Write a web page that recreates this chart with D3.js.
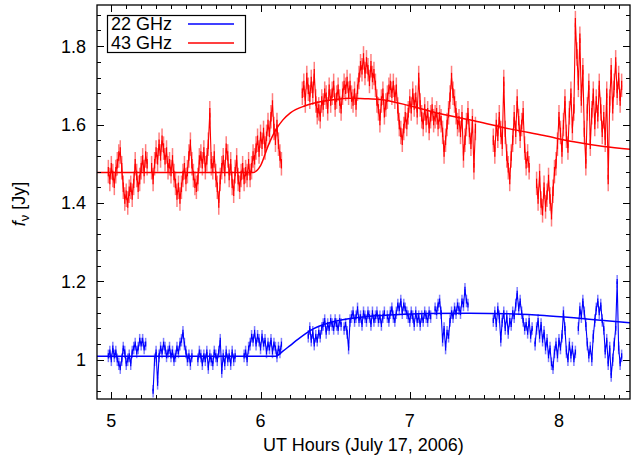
<!DOCTYPE html>
<html>
<head>
<meta charset="utf-8">
<script src="https://cdn.jsdelivr.net/npm/d3@7"></script>
<style>
  body { margin: 0; background: #fff; }
  svg { display: block; font-family: "Liberation Sans", Arial, sans-serif; }
</style>
</head>
<body>
<div id="chart"></div>
<script>
const W = 631, H = 458;
const M = { left: 97, right: 630, top: 5, bottom: 399 };

// samples every 0.01 h starting at 4.98 h; null = no data
const T_START = 4.98, T_STEP = 0.01;

const flux43 = [
  1.48,1.46,1.49,1.47,1.45,1.48,1.50,1.52,1.53,1.49,
  1.44,1.41,1.42,1.40,1.43,1.44,1.42,1.45,1.50,1.47,
  1.44,1.46,1.49,1.51,1.48,1.52,1.50,null,null,1.49,
  1.46,1.50,1.53,1.51,1.55,1.52,1.56,1.54,1.51,1.53,
  1.49,1.50,1.48,1.51,1.47,1.45,1.42,1.44,1.41,1.44,
  1.47,1.49,1.46,1.48,1.52,1.55,1.50,1.47,1.45,1.44,
  1.46,1.51,1.52,1.50,1.53,1.49,1.51,1.55,1.63,1.50,
  1.49,1.52,1.47,1.44,1.40,1.46,1.49,1.51,1.48,1.54,
  1.52,1.47,1.50,1.45,1.43,1.48,1.51,1.46,1.44,1.47,
  1.49,1.46,1.48,1.47,1.50,1.47,1.49,1.52,1.51,1.54,
  1.56,1.53,1.57,1.55,1.58,1.54,1.57,1.60,1.58,1.62,
  1.65,1.59,1.56,1.60,1.55,1.52,1.50,null,null,null,
  null,null,null,null,null,null,null,null,null,null,
  1.68,1.70,1.66,1.72,1.69,1.67,1.71,1.68,1.73,1.66,
  1.63,1.64,1.62,1.66,1.65,1.68,1.67,1.64,1.69,1.66,
  1.68,1.70,1.65,1.67,1.69,1.66,1.64,1.68,1.70,1.69,
  1.71,1.68,1.70,1.67,1.66,1.68,1.65,1.69,1.72,1.75,
  1.74,1.77,1.73,1.76,1.74,1.71,1.75,1.72,1.73,1.70,
  1.66,1.64,1.61,1.66,1.68,1.63,1.65,1.67,1.69,1.70,
  1.68,1.70,1.67,1.69,1.64,1.60,1.58,1.56,1.59,1.62,
  1.60,1.63,1.66,1.64,1.68,1.65,1.67,1.63,1.72,1.65,
  1.62,1.60,1.64,1.61,1.63,1.59,1.62,1.64,1.61,1.62,
  1.63,1.60,1.62,1.61,1.58,1.53,1.56,1.60,1.63,1.67,
  1.72,1.68,1.66,1.63,1.60,1.61,1.58,1.62,1.52,1.56,
  1.60,1.63,1.58,1.55,1.61,1.49,1.59,null,null,null,
  null,null,null,null,null,null,null,null,1.56,1.53,
  1.60,1.57,1.62,1.58,1.55,1.71,1.58,1.52,1.49,1.46,
  1.52,1.56,1.62,1.58,1.66,1.61,1.57,1.60,1.63,1.54,
  1.50,1.52,1.49,null,null,null,null,1.45,1.41,1.47,
  1.40,1.38,1.44,1.39,1.42,1.46,1.41,1.37,1.43,1.48,
  1.50,1.55,1.62,1.58,1.53,1.60,1.66,1.57,1.54,1.63,
  1.68,1.59,1.64,1.86,1.78,1.70,1.82,1.66,1.74,1.58,
  1.50,1.64,1.70,1.55,1.63,1.68,1.60,1.66,1.62,1.70,
  1.64,1.58,1.62,1.56,1.68,1.46,1.66,1.74,1.64,1.70,
  1.76,1.68,1.72,1.66,1.70
];

const flux22 = [
  1.01,1.02,1.00,1.03,1.01,1.02,1.00,0.99,0.98,1.00,
  1.03,1.02,0.99,1.00,1.01,0.99,1.02,1.03,1.04,1.02,
  1.03,1.05,1.04,1.05,1.03,1.04,null,null,null,null,
  0.92,1.00,1.02,0.94,1.01,1.03,1.02,1.04,1.03,1.01,
  1.02,1.03,1.01,1.02,1.00,1.01,1.03,1.02,1.04,1.05,
  1.07,1.04,1.02,1.00,1.01,0.99,1.01,null,null,null,
  1.00,1.02,1.01,0.99,1.01,1.00,1.02,0.98,1.01,1.00,
  0.99,1.02,1.01,1.00,1.02,1.05,0.97,1.01,0.99,1.02,
  1.00,1.01,0.99,1.02,1.00,1.01,null,null,null,null,
  null,1.01,1.02,1.00,1.03,1.04,1.06,1.05,1.07,1.04,
  1.06,1.05,1.03,1.06,1.04,1.05,1.02,1.04,1.03,1.05,
  1.02,1.04,1.03,1.01,1.03,1.02,1.04,null,null,null,
  null,null,null,null,null,null,null,null,null,null,
  null,null,null,null,1.06,1.08,1.05,1.07,1.04,1.06,
  1.05,1.07,1.06,1.08,1.09,1.10,1.07,1.09,1.08,1.10,
  1.09,1.08,1.10,1.09,1.08,1.10,1.09,null,1.08,1.09,
  1.07,1.03,1.10,1.11,1.12,1.10,1.11,1.13,1.10,1.11,
  1.09,1.12,1.11,1.10,1.12,1.11,1.09,1.12,1.10,1.11,
  1.12,1.10,1.11,1.09,1.11,1.12,null,1.11,1.10,1.12,
  1.13,1.11,1.10,1.12,1.14,1.13,1.15,1.12,1.14,1.13,
  1.12,1.11,1.10,1.12,1.11,1.09,1.12,1.10,1.11,1.09,
  1.11,1.10,1.12,1.11,1.10,1.12,1.11,null,null,1.13,
  1.12,1.14,1.15,1.12,1.05,1.08,1.03,1.07,1.06,1.10,
  1.12,1.11,1.13,1.12,1.14,1.13,1.12,1.15,1.14,1.18,
  1.15,1.14,null,null,null,null,null,null,null,null,
  null,null,null,null,null,null,null,null,1.10,1.12,
  1.09,1.13,1.11,1.05,1.10,1.12,1.08,1.11,1.07,1.10,
  1.09,1.12,1.11,1.14,1.17,1.13,1.15,1.12,1.10,1.08,
  1.09,1.07,1.10,1.06,1.08,null,1.04,1.08,1.10,1.06,
  1.09,1.05,1.07,1.03,1.05,1.01,1.03,0.99,0.98,1.02,
  1.04,1.01,1.05,1.03,1.06,1.12,1.08,1.02,1.00,1.04,
  1.01,1.03,1.00,1.02,null,1.08,1.13,1.11,1.15,1.12,
  1.09,1.04,1.01,1.03,1.00,1.06,1.10,1.13,1.15,1.12,
  1.14,1.10,1.08,1.02,1.05,0.99,1.03,0.96,1.00,1.04,
  1.08,1.20,1.03,0.99,1.01
];

const err43 = 0.03;
const err22 = 0.016;

// fitted light-curve models
const model43T = [4.90, 5.95, 6.00, 6.05, 6.10, 6.15, 6.20, 6.30, 6.40, 6.50, 6.60, 6.70, 6.80, 7.00, 7.20, 7.45, 7.67, 7.90, 8.10, 8.30, 8.48];
const model43V = [1.478, 1.478, 1.495, 1.545, 1.585, 1.612, 1.630, 1.648, 1.658, 1.664, 1.667, 1.666, 1.664, 1.648, 1.628, 1.608, 1.589, 1.572, 1.556, 1.544, 1.537];
const model22T = [4.90, 6.10, 6.15, 6.20, 6.25, 6.30, 6.35, 6.45, 6.55, 6.70, 6.90, 7.10, 7.40, 7.70, 7.90, 8.10, 8.30, 8.48];
const model22V = [1.009, 1.009, 1.022, 1.037, 1.052, 1.066, 1.078, 1.093, 1.102, 1.110, 1.115, 1.118, 1.119, 1.117, 1.113, 1.107, 1.100, 1.094];

const xTicks = [5, 6, 7, 8];
const yTicks = [1, 1.2, 1.4, 1.6, 1.8];
const seriesNames = ["22 GHz", "43 GHz"];
const seriesColors = ["#0000ff", "#ff0000"];

const FONT = 18;

const x = d3.scaleLinear().domain([4.904, 8.476]).range([M.left, M.right]);
const y = d3.scaleLinear().domain([0.9, 1.905]).range([M.bottom, M.top]);

const svg = d3.select("#chart").append("svg")
  .attr("width", W).attr("height", H);

svg.append("clipPath").attr("id", "clip")
  .append("rect")
  .attr("x", M.left).attr("y", M.top)
  .attr("width", M.right - M.left).attr("height", M.bottom - M.top);

const plot = svg.append("g").attr("clip-path", "url(#clip)");

function toPoints(vals) {
  return vals.map((v, i) => ({ t: T_START + i * T_STEP, v }));
}

function drawSeries(vals, err, color) {
  const all = toPoints(vals);
  const pts = all.filter(d => d.v !== null);
  const g = plot.append("g");
  // error bars
  g.selectAll("line.bar").data(pts).join("line")
    .attr("class", "bar")
    .attr("x1", d => x(d.t)).attr("x2", d => x(d.t))
    .attr("y1", d => y(d.v - err)).attr("y2", d => y(d.v + err))
    .attr("stroke", color).attr("stroke-opacity", 0.5).attr("stroke-width", 1.5);
  // joined samples
  const line = d3.line()
    .defined(d => d.v !== null)
    .x(d => x(d.t)).y(d => y(d.v));
  g.append("path").datum(all)
    .attr("d", line)
    .attr("fill", "none")
    .attr("stroke", color)
    .attr("stroke-width", 1.1);
  g.selectAll("line.core").data(pts).join("line")
    .attr("class", "core")
    .attr("x1", d => x(d.t)).attr("x2", d => x(d.t))
    .attr("y1", d => y(d.v - err * 0.4)).attr("y2", d => y(d.v + err * 0.4))
    .attr("stroke", color).attr("stroke-width", 1.2);
}

function drawModel(ts, vs, color) {
  const line = d3.line()
    .x(d => x(d[0])).y(d => y(d[1]))
    .curve(d3.curveMonotoneX);
  plot.append("path")
    .datum(d3.zip(ts, vs))
    .attr("d", line)
    .attr("fill", "none")
    .attr("stroke", color)
    .attr("stroke-width", 1.5);
}

drawSeries(flux43, err43, seriesColors[1]);
drawModel(model43T, model43V, seriesColors[1]);
drawSeries(flux22, err22, seriesColors[0]);
drawModel(model22T, model22V, seriesColors[0]);

// frame and ticks (all four sides, pointing inward)
const axes = svg.append("g").attr("stroke", "#000").attr("stroke-width", 1);
axes.append("rect")
  .attr("x", M.left).attr("y", M.top)
  .attr("width", M.right - M.left).attr("height", M.bottom - M.top)
  .attr("fill", "none").attr("stroke-width", 1.3);

const xMinor = d3.range(49, 85).map(i => i / 10);
const yMinor = d3.range(23, 48).map(i => i * 0.04);

xMinor.forEach(t => {
  const major = xTicks.some(v => Math.abs(v - t) < 1e-6);
  const len = major ? 7 : 4;
  const px = Math.round(x(t)) + 0.5;
  if (px < M.left || px > M.right) return;
  axes.append("line").attr("x1", px).attr("x2", px).attr("y1", M.bottom).attr("y2", M.bottom - len);
  axes.append("line").attr("x1", px).attr("x2", px).attr("y1", M.top).attr("y2", M.top + len);
});
yMinor.forEach(v => {
  const major = yTicks.some(t => Math.abs(t - v) < 1e-6);
  const len = major ? 7 : 4;
  const py = Math.round(y(v)) + 0.5;
  if (py < M.top || py > M.bottom) return;
  axes.append("line").attr("y1", py).attr("y2", py).attr("x1", M.left).attr("x2", M.left + len);
  axes.append("line").attr("y1", py).attr("y2", py).attr("x1", M.right).attr("x2", M.right - len);
});

svg.append("g").selectAll("text").data(xTicks).join("text")
  .attr("x", d => x(d)).attr("y", 427)
  .attr("text-anchor", "middle")
  .attr("font-size", FONT)
  .text(d => d);

svg.append("g").selectAll("text").data(yTicks).join("text")
  .attr("x", 86).attr("y", d => y(d) + 6.5)
  .attr("text-anchor", "end")
  .attr("font-size", FONT)
  .text(d => d);

svg.append("text")
  .attr("x", (M.left + M.right) / 2).attr("y", 451)
  .attr("text-anchor", "middle")
  .attr("font-size", FONT)
  .text("UT Hours (July 17, 2006)");

const yl = svg.append("text")
  .attr("transform", "translate(25,204) rotate(-90)")
  .attr("text-anchor", "middle")
  .attr("font-size", FONT);
yl.append("tspan").attr("font-style", "italic").text("f");
yl.append("tspan").attr("font-size", 13).attr("dy", 4).text("ν");
yl.append("tspan").attr("dy", -4).text(" [Jy]");

// legend
const leg = svg.append("g");
leg.append("rect")
  .attr("x", 107.5).attr("y", 15.5).attr("width", 138).attr("height", 37)
  .attr("fill", "#fff").attr("stroke", "#000").attr("stroke-width", 1.2);
seriesNames.forEach((name, i) => {
  const cy = 24 + i * 19;
  leg.append("text").attr("x", 111).attr("y", cy + 6)
    .attr("font-size", FONT).text(name);
  leg.append("line").attr("x1", 188).attr("x2", 234).attr("y1", cy).attr("y2", cy)
    .attr("stroke", seriesColors[i]).attr("stroke-width", 1.5);
});
</script>
</body>
</html>
